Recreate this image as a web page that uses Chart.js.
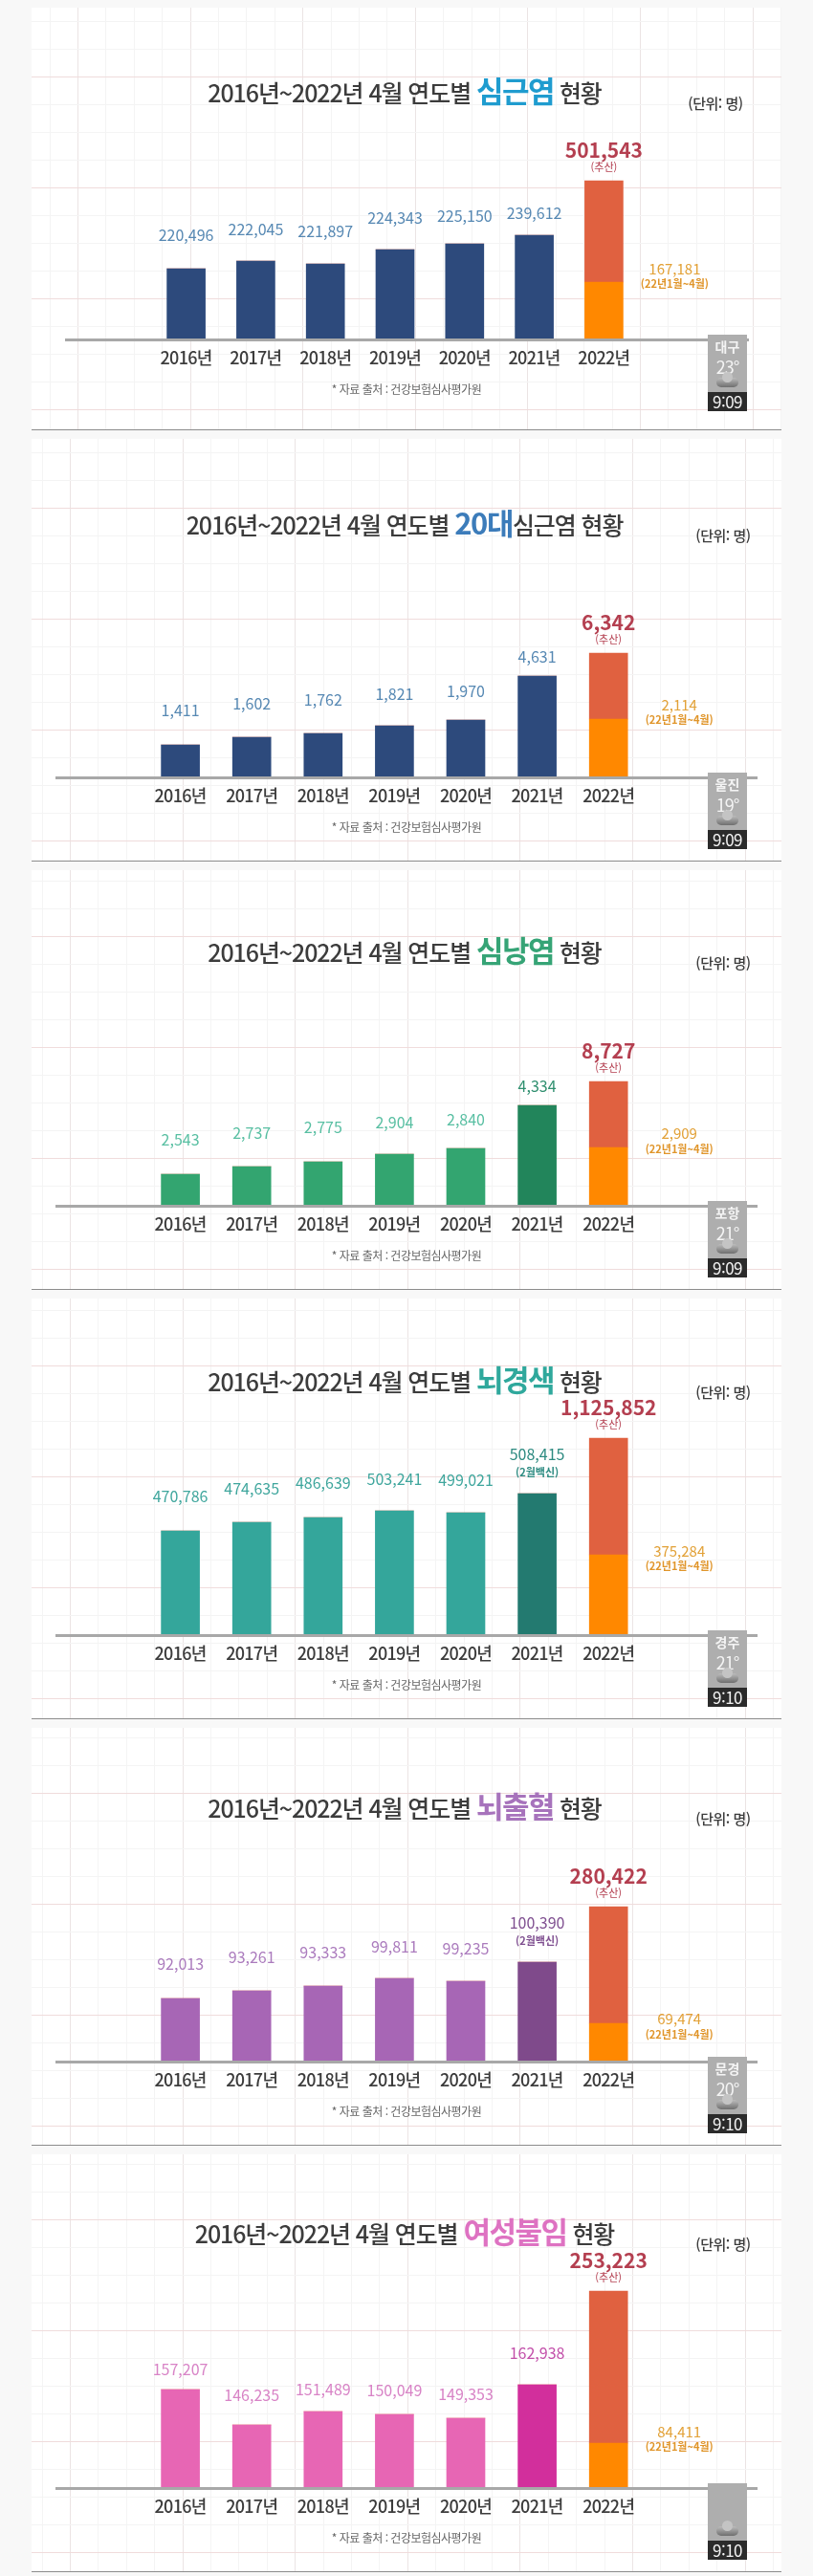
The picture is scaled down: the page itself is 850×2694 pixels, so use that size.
<!DOCTYPE html>
<html lang="ko">
<head>
<meta charset="utf-8">
<title>2016년~2022년 4월 연도별 현황</title>
<script src="https://cdn.jsdelivr.net/npm/chart.js@4"></script>
<style>
    html, body { margin: 0; padding: 0; background: #f8f8f8; }
    body { position: relative; width: 850px; height: 2694px; overflow: hidden;
           font-family: "Noto Sans CJK KR", "Noto Sans", sans-serif; color: #3c3c3c; }
    .panel { position: absolute; left: 0; width: 850px; }
    .panel canvas { position: absolute; left: 0; top: 0; }
    .text { position: absolute; white-space: nowrap; transform: translate(-50%, -50%); line-height: 1; }
    .title { font-size: 25px; font-weight: 500; letter-spacing: -1.1px; }
    .title b { font-size: 31px; font-weight: 700; letter-spacing: -1.5px; }
    .unit { font-size: 15px; font-weight: 500; letter-spacing: -.5px; }
    .source { font-size: 12px; color: #666; letter-spacing: -.5px; }
    .weather { position: absolute; left: 740px; width: 41px; background: #aeaeae; color: #f4f4f4; text-align: center; }
    .weather .city { position: absolute; left: 0; right: 0; top: 5px; font-size: 14px; font-weight: 700; line-height: 1; }
    .weather .temp { position: absolute; left: 0; right: 0; top: 24px; font-size: 18px; line-height: 1; letter-spacing: -1px; }
    .weather .cloud { position: absolute; left: 9px; bottom: 5px; width: 23px; height: 10px; border-radius: 6px;
                      background: linear-gradient(#bcbcbc, #6f6f6f); }
    .weather .cloud::before { content: ""; position: absolute; left: 6px; top: -6px; width: 11px; height: 11px;
                      border-radius: 50%; background: #c4c4c4; }
    .clock { position: absolute; left: 740px; width: 41px; height: 20px; background: #2b2b2b; color: #f2f2f2;
             font-size: 17px; line-height: 20px; text-align: center; letter-spacing: -.5px; }
</style>
</head>
<body>
<script>
const years = ["2016년", "2017년", "2018년", "2019년", "2020년", "2021년", "2022년"];

// Printed numbers. The reference does not draw its bars to scale (501,543 is not
// twice 239,612 in bar length), so printed numbers and drawn lengths are kept apart.
const anginaCounts = [220496, 222045, 221897, 224343, 225150, 239612, 167181];
const anginaTotal = 501543;
const twentiesCounts = [1411, 1602, 1762, 1821, 1970, 4631, 2114];
const twentiesTotal = 6342;
const pericarditisCounts = [2543, 2737, 2775, 2904, 2840, 4334, 2909];
const pericarditisTotal = 8727;
const infarctionCounts = [470786, 474635, 486639, 503241, 499021, 508415, 375284];
const infarctionTotal = 1125852;
const hemorrhageCounts = [92013, 93261, 93333, 99811, 99235, 100390, 69474];
const hemorrhageTotal = 280422;
const infertilityCounts = [157207, 146235, 151489, 150049, 149353, 162938, 84411];
const infertilityTotal = 253223;

// Bar lengths (last entry = lower orange part of 2022)
const anginaBars = [74, 82, 79, 94, 100, 109, 60];
const anginaRest = [0, 0, 0, 0, 0, 0, 106];
const twentiesBars = [34, 42, 46, 54, 60, 106, 61];
const twentiesRest = [0, 0, 0, 0, 0, 0, 69];
const pericarditisBars = [33, 41, 46, 54, 60, 105, 61];
const pericarditisRest = [0, 0, 0, 0, 0, 0, 69];
const infarctionBars = [109, 118, 123, 130, 128, 148, 84];
const infarctionRest = [0, 0, 0, 0, 0, 0, 122];
const hemorrhageBars = [66, 74, 79, 87, 84, 104, 40];
const hemorrhageRest = [0, 0, 0, 0, 0, 0, 122];
const infertilityBars = [103, 66, 80, 77, 73, 108, 47];
const infertilityRest = [0, 0, 0, 0, 0, 0, 159];

const Y_MAX = 300; // one unit of bar length is one pixel

const panels = [
    { top: 0, bottom: 450, baseline: 355, slot: 72.8, first: 194.6, axis: [68, 783], gridX: 81, gridY: 80, titleDy: 262,
      before: "2016년~2022년 4월 연도별 ", word: "심근염", after: " 현황", wordColor: "#1f9ccf", unitX: 748,
      counts: anginaCounts, total: anginaTotal, bars: anginaBars, rest: anginaRest,
      barColor: "#2d4a7c", darkColor: "#2d4a7c", labelColor: "#5688b3", darkLabel: "#5688b3",
      lifts: [35, 33, 34, 33, 29, 23], partLift: [14, -2], note: null, city: "대구", temp: "23", clock: "9:09" },
    { top: 451, bottom: 901, baseline: 813, slot: 74.6, first: 188.6, axis: [58, 792], gridX: 73, gridY: 531, titleDy: 268,
      before: "2016년~2022년 4월 연도별 ", word: "20대", after: "심근염 현황", wordColor: "#3c7cba", unitX: 756,
      counts: twentiesCounts, total: twentiesTotal, bars: twentiesBars, rest: twentiesRest,
      barColor: "#2d4a7c", darkColor: "#2d4a7c", labelColor: "#5688b3", darkLabel: "#5688b3",
      lifts: [36, 35, 35, 33, 30, 20], partLift: [15, -1], note: null, city: "울진", temp: "19", clock: "9:09" },
    { top: 902, bottom: 1349, baseline: 1261, slot: 74.6, first: 188.6, axis: [58, 792], gridX: 73, gridY: 979, titleDy: 269,
      before: "2016년~2022년 4월 연도별 ", word: "심낭염", after: " 현황", wordColor: "#36a476", unitX: 756,
      counts: pericarditisCounts, total: pericarditisTotal, bars: pericarditisBars, rest: pericarditisRest,
      barColor: "#33a570", darkColor: "#22855b", labelColor: "#58bfa2", darkLabel: "#2f8f6f",
      lifts: [36, 35, 36, 33, 30, 20], partLift: [15, -2], note: null, city: "포항", temp: "21", clock: "9:09" },
    { top: 1350, bottom: 1798, baseline: 1710, slot: 74.6, first: 188.6, axis: [58, 792], gridX: 73, gridY: 1428, titleDy: 269,
      before: "2016년~2022년 4월 연도별 ", word: "뇌경색", after: " 현황", wordColor: "#2fa89c", unitX: 756,
      counts: infarctionCounts, total: infarctionTotal, bars: infarctionBars, rest: infarctionRest,
      barColor: "#34a69b", darkColor: "#237a70", labelColor: "#3fa69d", darkLabel: "#2c8a80",
      lifts: [36, 35, 36, 33, 34, 41], partLift: [4, -12], note: "(2월백신)", noteLift: 22, city: "경주", temp: "21", clock: "9:10" },
    { top: 1799, bottom: 2244, baseline: 2156, slot: 74.6, first: 188.6, axis: [58, 792], gridX: 73, gridY: 1875, titleDy: 269,
      before: "2016년~2022년 4월 연도별 ", word: "뇌출혈", after: " 현황", wordColor: "#a773bc", unitX: 756,
      counts: hemorrhageCounts, total: hemorrhageTotal, bars: hemorrhageBars, rest: hemorrhageRest,
      barColor: "#a766b5", darkColor: "#7f4a8b", labelColor: "#ab7bbd", darkLabel: "#7f4f90",
      lifts: [36, 35, 35, 33, 34, 41], partLift: [5, -12], note: "(2월백신)", noteLift: 22, city: "문경", temp: "20", clock: "9:10" },
    { top: 2245, bottom: 2690, baseline: 2602, slot: 74.6, first: 188.6, axis: [58, 792], gridX: 73, gridY: 2321, titleDy: 270,
      before: "2016년~2022년 4월 연도별 ", word: "여성불임", after: " 현황", wordColor: "#de72c2", unitX: 756,
      counts: infertilityCounts, total: infertilityTotal, bars: infertilityBars, rest: infertilityRest,
      barColor: "#e766b4", darkColor: "#d22f9c", labelColor: "#d883c6", darkLabel: "#c24fa9",
      lifts: [21, 31, 23, 25, 25, 33], partLift: [12, -4], note: null, city: "", temp: "", clock: "9:10" }
];

function addText(parent, cls, x, y, html) {
    const el = document.createElement("div");
    el.className = "text " + cls;
    el.style.left = x + "px";
    el.style.top = y + "px";
    el.innerHTML = html;
    parent.appendChild(el);
}

// Faint graph-paper background, white page and dark rule under each panel
const paperPlugin = {
    id: "paper",
    beforeDraw(chart, args, opts) {
        const p = opts.panel;
        const ctx = chart.ctx;
        const h = chart.height;
        ctx.fillStyle = "#ffffff";
        ctx.fillRect(33, 8, 784, h - 8);
        ctx.lineWidth = 1;
        for (let i = -1; i < 27; i++) {
            const x = p.gridX + i * 29.4;
            if (x < 34 || x > 816) continue;
            ctx.strokeStyle = (i % 4 === 0) ? "#ebe4e4" : "#f4f4f4";
            ctx.beginPath(); ctx.moveTo(Math.round(x) + .5, 8); ctx.lineTo(Math.round(x) + .5, h); ctx.stroke();
        }
        for (let i = -8; i < 20; i++) {
            const y = p.gridY - p.top + i * 29;
            if (y < 8 || y > h) continue;
            ctx.strokeStyle = (i % 4 === 0) ? "#f0dcdc" : "#f4f4f4";
            ctx.beginPath(); ctx.moveTo(33, Math.round(y) + .5); ctx.lineTo(817, Math.round(y) + .5); ctx.stroke();
        }
        ctx.fillStyle = "#8c8c8c";
        ctx.fillRect(33, h - 1, 784, 2);
        ctx.letterSpacing = "-0.7px"; // tick labels are narrow in the reference
    }
};

// Axis line and value labels, placed from the chart's own scales
const labelPlugin = {
    id: "valueLabels",
    afterDatasetsDraw(chart, args, opts) {
        const p = opts.panel;
        const ctx = chart.ctx;
        const xs = chart.scales.x;
        const ys = chart.scales.y;
        const zero = ys.getPixelForValue(0);

        ctx.save();
        ctx.fillStyle = "#a8a8a8";
        ctx.fillRect(p.axis[0], zero - 1, p.axis[1] - p.axis[0], 3);

        ctx.textAlign = "center";
        ctx.textBaseline = "middle";
        ctx.letterSpacing = "0px";
        const fontName = '"Noto Sans CJK KR", sans-serif';

        p.counts.slice(0, 6).forEach((count, i) => {
            const x = xs.getPixelForValue(i);
            const y = ys.getPixelForValue(p.bars[i]) - p.lifts[i];
            ctx.font = "400 16px " + fontName;
            ctx.fillStyle = i === 5 ? p.darkLabel : p.labelColor;
            ctx.fillText(count.toLocaleString("en-US"), x, y);
            if (i === 5 && p.note) {
                ctx.font = "700 11px " + fontName;
                ctx.fillText(p.note, x, ys.getPixelForValue(p.bars[i]) - p.noteLift);
            }
        });

        // 2022 estimate above the stack
        const x22 = xs.getPixelForValue(6);
        const top22 = ys.getPixelForValue(p.bars[6] + p.rest[6]);
        ctx.fillStyle = "#b43f50";
        ctx.font = "700 21px " + fontName;
        ctx.fillText(p.total.toLocaleString("en-US"), x22, top22 - 32);
        ctx.font = "400 11px " + fontName;
        ctx.fillText("(추산)", x22, top22 - 14);

        // January-April part beside the orange block
        const split = ys.getPixelForValue(p.bars[6]);
        ctx.fillStyle = "#e2a137";
        ctx.font = "400 15px " + fontName;
        ctx.fillText(p.counts[6].toLocaleString("en-US"), x22 + 74, split - p.partLift[0]);
        ctx.fillStyle = "#e0952a";
        ctx.font = "700 11px " + fontName;
        ctx.fillText("(22년1월~4월)", x22 + 74, split - p.partLift[1]);
        ctx.restore();
    }
};

panels.forEach(p => {
    const height = p.bottom - p.top;
    const baseline = p.baseline - p.top;

    const wrap = document.createElement("div");
    wrap.className = "panel";
    wrap.style.top = p.top + "px";
    wrap.style.height = height + "px";
    document.body.appendChild(wrap);

    const canvas = document.createElement("canvas");
    canvas.width = 850;
    canvas.height = height;
    wrap.appendChild(canvas);

    const left = p.first - p.slot / 2;

    new Chart(canvas.getContext("2d"), {
        type: "bar",
        data: {
            labels: years,
            datasets: [
                {
                    data: p.bars,
                    backgroundColor: years.map((y, i) => i === 6 ? "#ff8800" : i === 5 ? p.darkColor : p.barColor),
                    barThickness: 40,
                    borderWidth: 0
                },
                {
                    data: p.rest,
                    backgroundColor: "#e06140",
                    barThickness: 40,
                    borderWidth: 0
                }
            ]
        },
        options: {
            responsive: false,
            animation: false,
            layout: {
                padding: { top: baseline - Y_MAX, bottom: 0, left: left, right: 850 - left - p.slot * 7 }
            },
            plugins: {
                legend: { display: false },
                tooltip: { enabled: false },
                paper: { panel: p },
                valueLabels: { panel: p }
            },
            scales: {
                x: {
                    stacked: true,
                    grid: { display: false, drawTicks: false },
                    border: { display: false },
                    ticks: {
                        color: "#3c3c3c",
                        padding: 8,
                        maxRotation: 0,
                        autoSkip: false,
                        font: { family: '"Noto Sans CJK KR", sans-serif', size: 18, weight: "500" }
                    },
                    afterFit(scale) { scale.height = height - baseline; }
                },
                y: {
                    stacked: true,
                    display: false,
                    min: 0,
                    max: Y_MAX
                }
            }
        },
        plugins: [paperPlugin, labelPlugin]
    });

    addText(wrap, "title", 423, baseline - p.titleDy,
        p.before + '<b style="color:' + p.wordColor + '">' + p.word + "</b>" + p.after);
    addText(wrap, "unit", p.unitX, baseline - p.titleDy + 14, "(단위: 명)");
    addText(wrap, "source", 425, baseline + 52, "* 자료 출처 : 건강보험심사평가원");

    const weather = document.createElement("div");
    weather.className = "weather";
    weather.style.top = (baseline - 5) + "px";
    weather.style.height = "60px";
    weather.innerHTML = '<div class="city">' + p.city + '</div><div class="temp">' +
        (p.temp ? p.temp + "°" : "") + '</div><div class="cloud"></div>';
    wrap.appendChild(weather);

    const clock = document.createElement("div");
    clock.className = "clock";
    clock.style.top = (baseline + 55) + "px";
    clock.textContent = p.clock;
    wrap.appendChild(clock);
});
</script>
</body>
</html>
